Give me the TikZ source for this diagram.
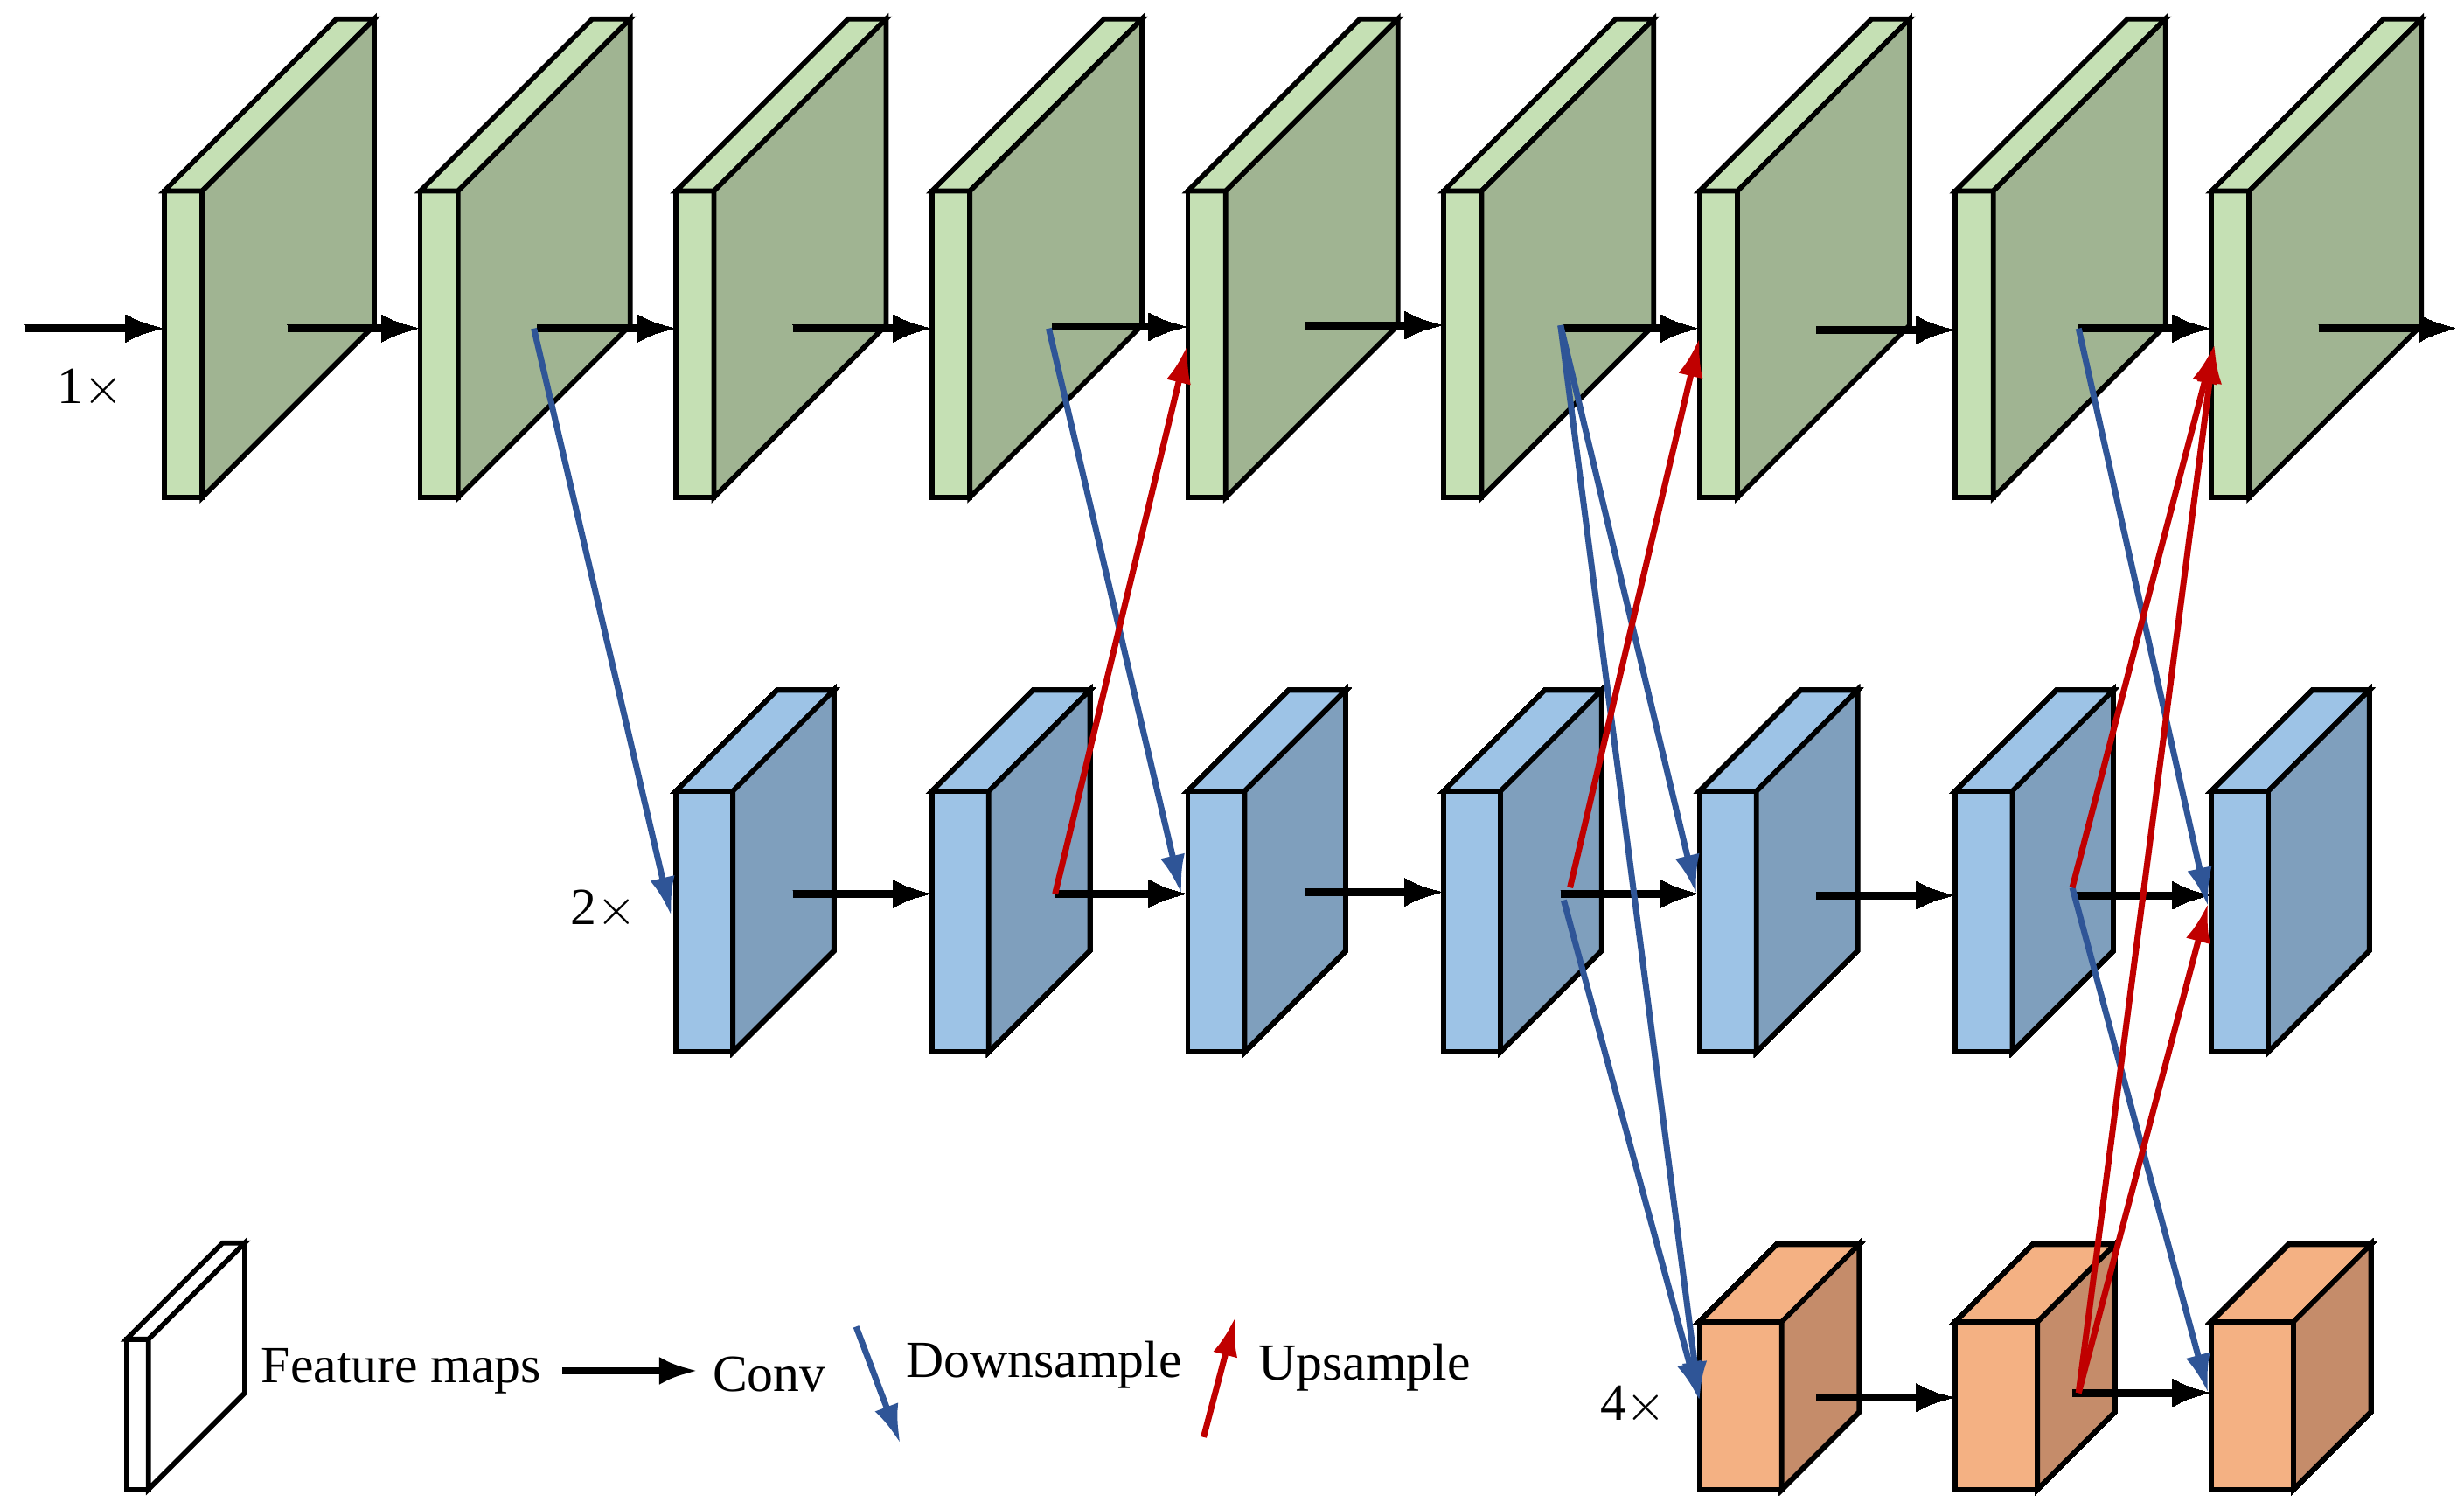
\documentclass[tikz,border=0pt]{standalone}
\usepackage{fontspec}
\setmainfont{Liberation Serif}
\usetikzlibrary{arrows.meta, positioning}
\definecolor{gfront}{HTML}{C5E0B4}
\definecolor{gside}{HTML}{A0B492}
\definecolor{bfront}{HTML}{9DC3E6}
\definecolor{bside}{HTML}{7F9FBD}
\definecolor{ofront}{HTML}{F4B183}
\definecolor{oside}{HTML}{C58C6A}
\definecolor{down}{HTML}{2F5597}
\definecolor{up}{HTML}{C00000}
% feature map block: x, ytop, width, height, depth, front, side
\newcommand{\fmap}[7]{%
  \filldraw[fill=#6, line width=0.9pt] (#1,#2) rectangle ++(#3,#4);
  \filldraw[fill=#6, line width=0.9pt] (#1,#2) -- ++(#3,0) -- ++(#5,-#5) -- ++(-#3,0) -- cycle;
  \filldraw[fill=#7, line width=0.9pt] (#1+#3,#2) -- ++(#5,-#5) -- ++(0,#4) -- ++(-#5,#5) -- cycle;
}
\tikzset{
  conv/.style={-{Latex[length=7pt,width=5pt]}, line width=1.4pt, black},
  downs/.style={-{Latex[length=7pt,width=4.5pt]}, line width=1.1pt, down},
  ups/.style={-{Latex[length=7pt,width=4.5pt]}, line width=1.1pt, up},
  lbl/.style={font=\fontsize{9.4}{11}\selectfont, inner sep=0pt}
}
\begin{document}
\begin{tikzpicture}[x=0.01cm, y=-0.01cm]
\useasboundingbox (0,0) rectangle (1560,955);
% rows of feature maps
\foreach \x in {104,266,428,590,752,914,1076,1238,1400}
  \fmap{\x}{121}{24}{194}{109}{gfront}{gside}
\foreach \x in {428,590,752,914,1076,1238,1400}
  \fmap{\x}{501}{36}{165}{64}{bfront}{bside}
\foreach \x in {1076,1238,1400}
  \fmap{\x}{837}{52}{106}{49}{ofront}{oside}
% conv arrows
\foreach \a/\b/\y in {16/104/208,182/266/208,340/428/208,502/590/208,666/752/207,
    826/914/206,990/1076/208,1150/1238/209,1316/1400/208,1468/1556/208,
    502/590/566,668/752/566,826/914/565,988/1076/566,1150/1238/567,1312/1400/567,
    1150/1238/885,1312/1400/882}{
  \coordinate (s) at (\a,\y);
  \coordinate (t) at (\b,\y);
  \draw[conv] (s) -- (t);
}
% downsample
\coordinate (g2) at (338,208);
\coordinate (g4) at (664,208);
\coordinate (g6) at (988,206);
\coordinate (g8) at (1316,208);
\coordinate (b1) at (425,580);
\coordinate (b3) at (748,566);
\coordinate (b4) at (990,570);
\coordinate (b5) at (1074,566);
\coordinate (b6) at (1312,562);
\coordinate (b7) at (1398,574);
\coordinate (o1) at (1076,887);
\coordinate (o3) at (1398,882);
\draw[downs] (g2) -- (b1);
\draw[downs] (g4) -- (b3);
\draw[downs] (g6) -- (b5);
\draw[downs] (g6) -- (o1);
\draw[downs] (b4) -- (o1);
\draw[downs] (g8) -- (b7);
\draw[downs] (b6) -- (o3);
% upsample
\coordinate (b2) at (668,566);
\coordinate (b4u) at (994,562);
\coordinate (o2) at (1316,882);
\coordinate (g5) at (752,218);
\coordinate (g7) at (1076,214);
\coordinate (g9) at (1402,218);
\coordinate (b7u) at (1398,572);
\draw[ups] (b2) -- (g5);
\draw[ups] (b4u) -- (g7);
\draw[ups] (b6) -- (g9);
\draw[ups] (o2) -- (g9);
\draw[ups] (o2) -- (b7u);
% scale labels
\node[lbl] (l1) at (57,246) {1$\times$};
\node[lbl] (l2) at (382,576) {2$\times$};
\node[lbl] (l4) at (1034,890) {4$\times$};
% legend
\fmap{80}{848}{14}{95}{61}{white}{white}
\node[lbl] (fm) at (254,868) {Feature maps};
\coordinate (c1) at (356,868);
\coordinate (c2) at (442,868);
\draw[conv] (c1) -- (c2);
\node[lbl] (cv) at (487,870) {Conv};
\coordinate (d1) at (542,840);
\coordinate (d2) at (570,914);
\draw[downs] (d1) -- (d2);
\node[lbl] (dn) at (661,864) {Downsample};
\coordinate (u1) at (762,910);
\coordinate (u2) at (782,834);
\draw[ups] (u1) -- (u2);
\node[lbl] (us) at (864,866) {Upsample};
\end{tikzpicture}
\end{document}
